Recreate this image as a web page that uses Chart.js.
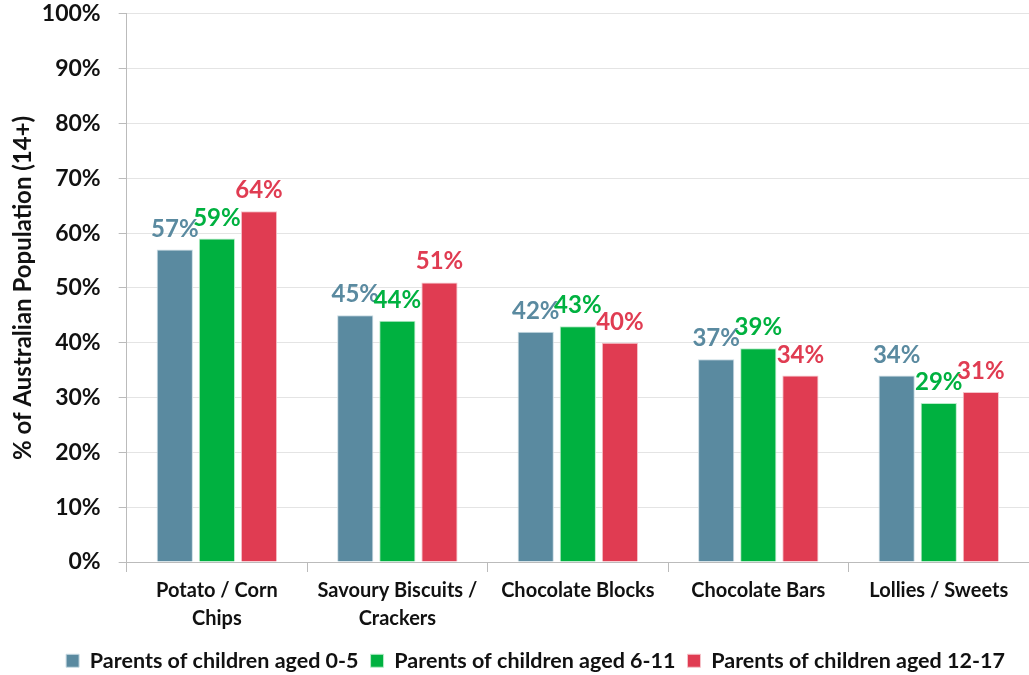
<!DOCTYPE html>
<html>
<head>
<meta charset="utf-8">
<script src="https://cdn.jsdelivr.net/npm/chart.js@4"></script>
<style>
  html, body { margin: 0; padding: 0; background: #fff; }
  #wrap { width: 1029px; height: 675px; }
</style>
</head>
<body>
<div id="wrap"><canvas id="myChart" width="1029" height="675"></canvas></div>
<script>
var categories = [['Potato / Corn', 'Chips'], ['Savoury Biscuits /', 'Crackers'], 'Chocolate Blocks', 'Chocolate Bars', 'Lollies / Sweets'];
var aged0to5 = [57, 45, 42, 37, 34];
var aged6to11 = [59, 44, 43, 39, 29];
var aged12to17 = [64, 51, 40, 34, 31];
var seriesNames = ['Parents of children aged 0-5', 'Parents of children aged 6-11', 'Parents of children aged 12-17'];
var colors = ['#5a8aa0', '#00b140', '#e03c52'];

var FONT = 'Lato, "Open Sans", sans-serif';

// 막대 위에 값 표시
var valueLabels = {
    id: 'valueLabels',
    afterDatasetsDraw: function(chart) {
        var c = chart.ctx;
        c.save();
        c.font = 'bold 24px ' + FONT;
        c.textAlign = 'center';
        c.textBaseline = 'alphabetic';
        chart.data.datasets.forEach(function(ds, i) {
            var meta = chart.getDatasetMeta(i);
            meta.data.forEach(function(bar, j) {
                c.fillStyle = ds.backgroundColor;
                c.fillText(ds.data[j] + '%', bar.x, bar.y - 13);
            });
        });
        c.restore();
    }
};

var ctx = document.getElementById('myChart').getContext('2d');
var myChart = new Chart(ctx, {
    type: 'bar',
    data: {
        labels: categories,
        datasets: [
            { label: seriesNames[0], data: aged0to5, backgroundColor: colors[0], borderColor: '#c9dbe3', borderWidth: 1 },
            { label: seriesNames[1], data: aged6to11, backgroundColor: colors[1], borderColor: '#b8ecc9', borderWidth: 1 },
            { label: seriesNames[2], data: aged12to17, backgroundColor: colors[2], borderColor: '#f5c3ca', borderWidth: 1 }
        ]
    },
    options: {
        responsive: false,
        animation: false,
        devicePixelRatio: 1,
        categoryPercentage: 0.70,
        barPercentage: 0.86,
        layout: { padding: { top: 0, right: 0, left: 42, bottom: 0 } },
        plugins: {
            legend: {
                position: 'bottom',
                maxHeight: 37,
                labels: {
                    boxWidth: 13,
                    boxHeight: 13,
                    padding: 12,
                    color: '#111',
                    font: { family: FONT, size: 21.5, weight: 'bold' }
                }
            },
            tooltip: { enabled: false }
        },
        scales: {
            x: {
                grid: { offset: true, drawOnChartArea: false, color: '#bbb', tickLength: 10 },
                border: { color: '#bbb' },
                ticks: {
                    color: '#111',
                    padding: 5,
                    maxRotation: 0,
                    autoSkip: false,
                    font: { family: FONT, size: 20, weight: 'bold', lineHeight: 1.4 }
                }
            },
            y: {
                min: 0,
                max: 100,
                ticks: {
                    stepSize: 10,
                    color: '#111',
                    padding: 0,
                    font: { family: FONT, size: 23, weight: 'bold' },
                    callback: function(v) { return v + '%'; }
                },
                // 눈금선은 축 가까이 8px만 보이게
                grid: { color: '#e4e4e4', tickColor: '#bbb', tickLength: 26, tickBorderDash: [0, 18, 8, 0] },
                border: { color: '#bbb' },
                title: {
                    display: true,
                    text: '% of Australian Population (14+)',
                    color: '#111',
                    font: { family: FONT, size: 24, weight: 'bold' },
                    padding: { top: -33, bottom: 4 }
                }
            }
        }
    },
    plugins: [valueLabels]
});
</script>
</body>
</html>
